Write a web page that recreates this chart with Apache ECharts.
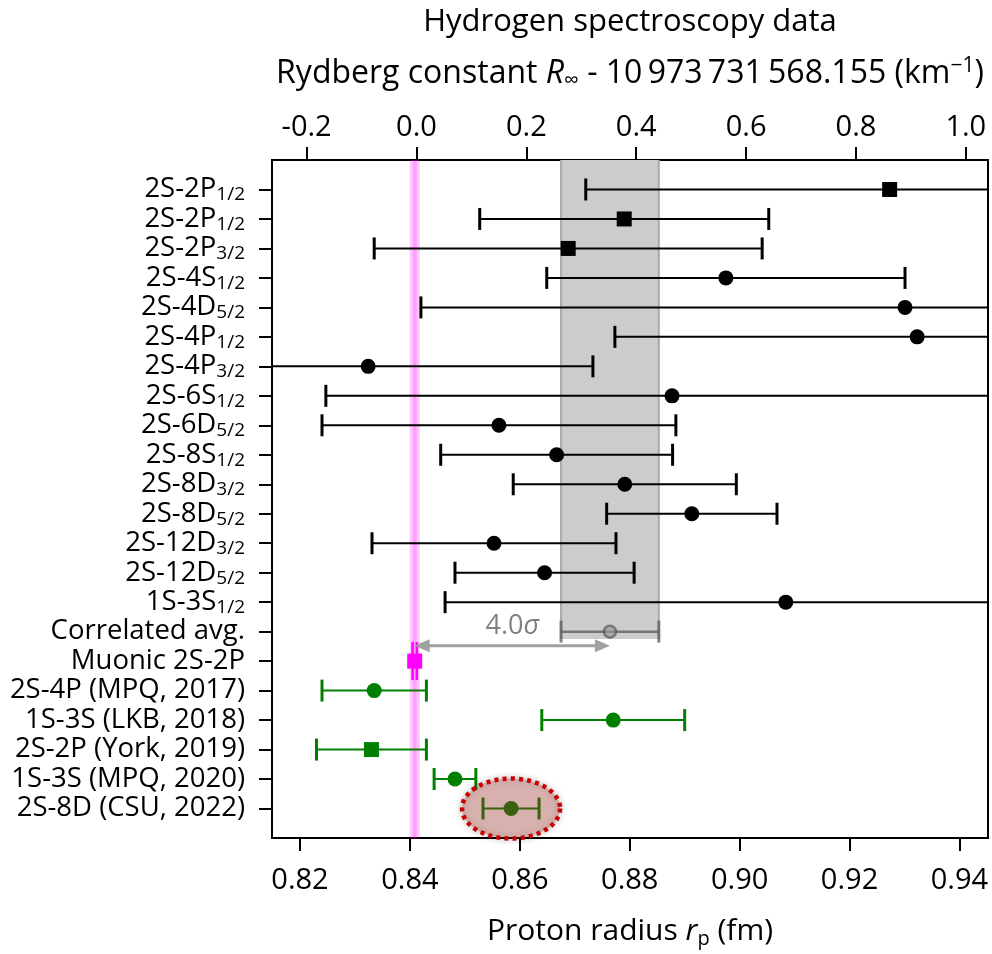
<!DOCTYPE html>
<html>
<head>
<meta charset="utf-8">
<script src="https://cdn.jsdelivr.net/npm/echarts@6/dist/echarts.min.js"></script>
<style>
html,body{margin:0;padding:0;background:#fff;}
#chart{width:992px;height:954px;}
</style>
</head>
<body>
<div id="chart"></div>
<script>
// ---------- data ----------
const labelMain = ['2S-2P','2S-2P','2S-2P','2S-4S','2S-4D','2S-4P','2S-4P','2S-6S','2S-6D','2S-8S','2S-8D','2S-8D','2S-12D','2S-12D','1S-3S',
  'Correlated avg.','Muonic 2S-2P','2S-4P (MPQ, 2017)','1S-3S (LKB, 2018)','2S-2P (York, 2019)','1S-3S (MPQ, 2020)','2S-8D (CSU, 2022)'];
const labelSub = ['1/2','1/2','3/2','1/2','5/2','1/2','3/2','1/2','5/2','1/2','3/2','5/2','3/2','5/2','1/2','','','','','','',''];

const hValues = [0.9273, 0.8790, 0.8688, 0.8975, 0.9301, 0.9323, 0.8324, 0.8877, 0.8562, 0.8667, 0.8791, 0.8913, 0.8553, 0.8645, 0.9084];
const hErrors = [0.0553, 0.0263, 0.0353, 0.0326, 0.0881, 0.0550, 0.0409, 0.0630, 0.0322, 0.0211, 0.0203, 0.0155, 0.0222, 0.0163, 0.0620];
const hSymbols = ['rect','rect','rect','circle','circle','circle','circle','circle','circle','circle','circle','circle','circle','circle','circle'];

const avgValue = 0.8764, avgError = 0.0089;
const muValue = 0.84087, muError = 0.00039;

const gValues = [0.8335, 0.8770, 0.8330, 0.8482, 0.8584];
const gErrors = [0.0095, 0.0130, 0.0100, 0.0038, 0.0051];
const gSymbols = ['circle','circle','rect','circle','circle'];

const sigmaText = '4.0';
const bottomTicks = [0.82, 0.84, 0.86, 0.88, 0.90, 0.92, 0.94];
const topTicks = [-0.2, 0.0, 0.2, 0.4, 0.6, 0.8, 1.0];
const rows = labelMain.map((_, i) => i);

// ---------- layout constants ----------
const FONT = 'Open Sans';
const xMin = 0.8149, xMax = 0.9452;
const topMin = -0.263, topMax = 1.0404;

const avgRow = hValues.length;        // 15
const muRow = avgRow + 1;             // 16
const gRow0 = muRow + 1;              // 17

function errRender(color, capHalf, lw, capW) {
  return function (params, api) {
    const v = api.value(0), r = api.value(1), e = api.value(2);
    const p1 = api.coord([v - e, r]), p2 = api.coord([v + e, r]);
    const cs = params.coordSys;
    const xl = cs.x, xr = cs.x + cs.width;
    const a = Math.max(p1[0], xl), b = Math.min(p2[0], xr);
    const y = p1[1];
    const ch = [{type: 'line', shape: {x1: a, y1: y, x2: b, y2: y}, style: {stroke: color, lineWidth: lw}}];
    if (p1[0] >= xl) ch.push({type: 'line', shape: {x1: p1[0], y1: y - capHalf, x2: p1[0], y2: y + capHalf}, style: {stroke: color, lineWidth: capW}});
    if (p2[0] <= xr) ch.push({type: 'line', shape: {x1: p2[0], y1: y - capHalf, x2: p2[0], y2: y + capHalf}, style: {stroke: color, lineWidth: capW}});
    return {type: 'group', children: ch};
  };
}

const hErrData = hValues.map((v, i) => [v, i, hErrors[i]]);
const hMarkData = hValues.map((v, i) => ({value: [v, i], symbol: hSymbols[i]}));
const gErrData = gValues.map((v, i) => [v, gRow0 + i, gErrors[i]]);
const gMarkData = gValues.map((v, i) => ({value: [v, gRow0 + i], symbol: gSymbols[i]}));

const chart = echarts.init(document.getElementById('chart'));

const option = {
  animation: false,
  backgroundColor: '#fff',
  graphic: [{
    type: 'text', x: 630, y: 22,
    style: {text: 'Hydrogen spectroscopy data', fontFamily: FONT, fontSize: 31, fill: '#000', align: 'center', verticalAlign: 'middle', textAlign: 'center', textVerticalAlign: 'middle'}
  }],
  grid: {left: 272, right: 4, top: 160, bottom: 114, show: true, borderColor: '#000', borderWidth: 2, backgroundColor: 'transparent'},
  xAxis: [{
    type: 'value', position: 'bottom', min: xMin, max: xMax,
    axisLine: {show: false, onZero: false}, splitLine: {show: false},
    axisTick: {show: true, customValues: bottomTicks, length: 13, lineStyle: {color: '#000', width: 2}},
    axisLabel: {customValues: bottomTicks, formatter: v => v.toFixed(2), fontFamily: FONT, fontSize: 29, color: '#000', margin: 28},
    name: '{n|Proton radius }{i|r}{sub|p}{n| (fm)}',
    nameLocation: 'middle', nameGap: 75,
    nameTextStyle: {rich: {
      n: {fontFamily: FONT, fontSize: 30, color: '#000', lineHeight: 36},
      i: {fontFamily: FONT, fontSize: 30, fontStyle: 'italic', color: '#000', lineHeight: 36},
      sub: {fontFamily: FONT, fontSize: 20, color: '#000', lineHeight: 18, verticalAlign: 'bottom'}
    }}
  }, {
    type: 'value', position: 'top', min: topMin, max: topMax,
    axisLine: {show: false, onZero: false}, splitLine: {show: false},
    axisTick: {show: true, customValues: topTicks, length: 13, lineStyle: {color: '#000', width: 2}},
    axisLabel: {customValues: topTicks, formatter: v => (Math.abs(v) < 1e-9 ? 0 : v).toFixed(1), fontFamily: FONT, fontSize: 29, color: '#000', margin: 18},
    name: '{n|Rydberg constant }{i|R}{sub|\u221E}{n| - 10\u2009973\u2009731\u2009568.155 (km}{sup|\u22121}{n|)}',
    nameLocation: 'middle', nameGap: 68,
    nameTextStyle: {rich: {
      n: {fontFamily: FONT, fontSize: 32, color: '#000', lineHeight: 36},
      i: {fontFamily: FONT, fontSize: 32, fontStyle: 'italic', color: '#000', lineHeight: 36},
      sub: {fontFamily: FONT, fontSize: 21, color: '#000', lineHeight: 18, verticalAlign: 'bottom'},
      sup: {fontFamily: FONT, fontSize: 21, color: '#000', lineHeight: 18, verticalAlign: 'top'}
    }}
  }],
  yAxis: {
    type: 'value', inverse: true, min: -1, max: 22,
    axisLine: {show: false, onZero: false}, splitLine: {show: false},
    axisTick: {show: true, customValues: rows, length: 13, lineStyle: {color: '#000', width: 2}},
    axisLabel: {
      customValues: rows, margin: 27,
      formatter: v => {
        const i = Math.round(v);
        return labelSub[i] ? '{a|' + labelMain[i] + '}{s|' + labelSub[i] + '}' : '{a|' + labelMain[i] + '}';
      },
      rich: {
        a: {fontFamily: FONT, fontSize: 27.5, color: '#000', lineHeight: 30},
        s: {fontFamily: FONT, fontSize: 19, color: '#000', lineHeight: 14, verticalAlign: 'bottom'}
      }
    }
  },
  series: [
    // grey band of correlated average
    {
      type: 'custom', xAxisIndex: 0, z: 1, silent: true,
      data: [[avgValue, avgError, avgRow]],
      renderItem: (params, api) => {
        const v = api.value(0), e = api.value(1), r = api.value(2);
        const cs = params.coordSys;
        const l = api.coord([v - e, r])[0], rr = api.coord([v + e, r])[0];
        const yb = api.coord([v, r + 0.25])[1];
        return {type: 'group', children: [
          {type: 'rect', shape: {x: l, y: cs.y, width: rr - l, height: yb - cs.y}, style: {fill: '#cccccc'}},
          {type: 'line', shape: {x1: l, y1: cs.y, x2: l, y2: yb}, style: {stroke: '#aaaaaa', lineWidth: 2}},
          {type: 'line', shape: {x1: rr, y1: cs.y, x2: rr, y2: yb}, style: {stroke: '#aaaaaa', lineWidth: 2}}
        ]};
      }
    },
    // muonic pink vertical band
    {
      type: 'custom', xAxisIndex: 0, z: 2, silent: true,
      data: [[muValue]],
      renderItem: (params, api) => {
        const cs = params.coordSys;
        const x = api.coord([api.value(0), 0])[0];
        return {type: 'group', children: [
          {type: 'rect', shape: {x: x - 5, y: cs.y, width: 10, height: cs.height}, style: {fill: 'rgba(255,0,255,0.22)'}},
          {type: 'rect', shape: {x: x - 2, y: cs.y, width: 4, height: cs.height}, style: {fill: 'rgba(255,0,255,0.2)'}}
        ]};
      }
    },
    // hydrogen error bars
    {type: 'custom', xAxisIndex: 0, z: 3, silent: true, data: hErrData, renderItem: errRender('#000', 11, 2, 3)},
    {type: 'scatter', xAxisIndex: 0, z: 4, silent: true, data: hMarkData, symbolSize: 15, itemStyle: {color: '#000', opacity: 1}},
    // correlated average
    {type: 'custom', xAxisIndex: 0, z: 3, silent: true, data: [[avgValue, avgRow, avgError]], renderItem: errRender('rgba(90,90,90,0.75)', 11, 2.5, 3)},
    {type: 'scatter', xAxisIndex: 0, z: 4, silent: true, data: [[avgValue, avgRow]], symbol: 'circle', symbolSize: 12,
      itemStyle: {color: 'rgba(150,150,150,0.8)', borderColor: 'rgba(80,80,80,0.8)', borderWidth: 2.5}},
    // muonic
    {type: 'custom', xAxisIndex: 0, z: 3, silent: true, data: [[muValue, muRow, muError]], renderItem: errRender('#ff00ff', 19, 2, 2.5)},
    {type: 'scatter', xAxisIndex: 0, z: 4, silent: true, data: [{value: [muValue, muRow], symbol: 'rect'}], symbolSize: 15, itemStyle: {color: '#ff00ff', opacity: 1}},
    // recent measurements
    {type: 'custom', xAxisIndex: 0, z: 3, silent: true, data: gErrData, renderItem: errRender('#008000', 11, 2, 3)},
    {type: 'scatter', xAxisIndex: 0, z: 4, silent: true, data: gMarkData, symbolSize: 15, itemStyle: {color: '#008000', opacity: 1}},
    // 4.0 sigma arrow
    {
      type: 'custom', xAxisIndex: 0, z: 3, silent: true,
      data: [[muValue, avgValue, avgRow + 0.48]],
      renderItem: (params, api) => {
        const p1 = api.coord([api.value(0), api.value(2)]);
        const p2 = api.coord([api.value(1), api.value(2)]);
        const y = p1[1], L = 15, H = 6.5;
        const col = '#a0a0a0';
        return {type: 'group', children: [
          {type: 'line', shape: {x1: p1[0] + L - 2, y1: y, x2: p2[0] - L + 2, y2: y}, style: {stroke: col, lineWidth: 3}},
          {type: 'polygon', shape: {points: [[p1[0], y], [p1[0] + L, y - H], [p1[0] + L, y + H]]}, style: {fill: col}},
          {type: 'polygon', shape: {points: [[p2[0], y], [p2[0] - L, y - H], [p2[0] - L, y + H]]}, style: {fill: col}},
          {type: 'text', x: (p1[0] + p2[0]) / 2, y: y - 19,
            style: {text: '{a|' + sigmaText + '}{b|\u03C3}', align: 'center', verticalAlign: 'middle',
              rich: {a: {fontFamily: FONT, fontSize: 27, fill: '#808080', color: '#808080'},
                     b: {fontFamily: FONT, fontSize: 27, fontStyle: 'italic', fill: '#808080', color: '#808080'}}}}
        ]};
      }
    },
    // highlight ellipse around the newest result
    {
      type: 'custom', xAxisIndex: 0, z: 6, silent: true,
      data: [[gValues[gValues.length - 1], gRow0 + gValues.length - 1]],
      renderItem: (params, api) => {
        const c = api.coord([api.value(0), api.value(1)]);
        const rx = 49, ry = 30, pts = [];
        for (let k = 0; k < 120; k++) {
          const t = k / 120 * Math.PI * 2;
          pts.push([c[0] + rx * Math.cos(t), c[1] + ry * Math.sin(t)]);
        }
        return {type: 'polygon', shape: {points: pts},
          style: {fill: 'rgba(190,60,50,0.3)', stroke: '#cc0000', lineWidth: 4.5, lineDash: [4, 4.2],
                  shadowBlur: 6, shadowColor: 'rgba(0,0,0,0.35)'}};
      }
    }
  ]
};
chart.setOption(option);
</script>
</body>
</html>
